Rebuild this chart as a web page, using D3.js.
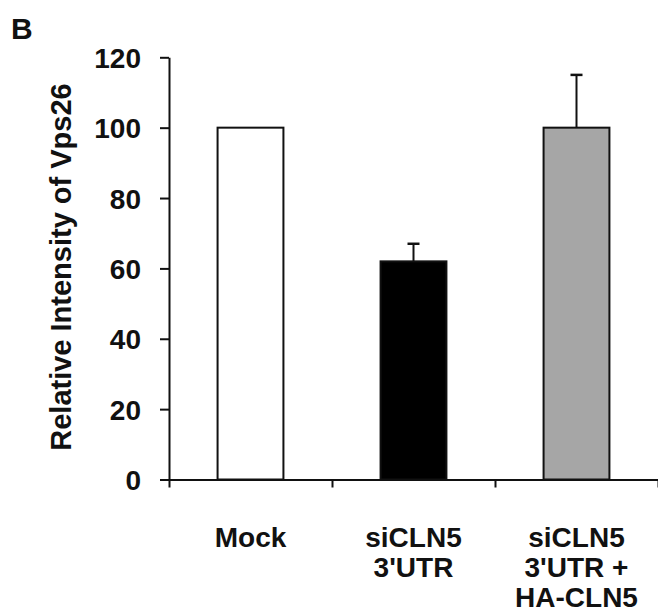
<!DOCTYPE html>
<html>
<head>
<meta charset="utf-8">
<script src="https://cdn.jsdelivr.net/npm/d3@7"></script>
<style>
  body { margin: 0; background: #fff; }
  svg text { font-family: "Liberation Sans", Arial, sans-serif; font-weight: bold; fill: #111; }
</style>
</head>
<body>
<div id="chart"></div>
<script>
// data
var categories = ["Mock", "siCLN5 3'UTR", "siCLN5 3'UTR + HA-CLN5"]
var labelLines = [["Mock"], ["siCLN5", "3'UTR"], ["siCLN5", "3'UTR +", "HA-CLN5"]]
var values = [100, 62, 100]
var errors = [0, 5, 15]
var fills = ["#ffffff", "#000000", "#a6a6a6"]
var yTicks = [0, 20, 40, 60, 80, 100, 120]

var width = 658, height = 614

var svg = d3.select("#chart")
    .append("svg")
    .attr("width", width)
    .attr("height", height)

// plot edges (note: "top" is a reserved window name)
var plotLeft = 169, plotRight = 658, plotTop = 57.3, plotBottom = 479.5

var y = d3.scaleLinear()
    .domain([0, 120])
    .range([plotBottom, plotTop])

var x = d3.scaleBand()
    .domain(categories)
    .range([plotLeft, plotRight])
    .paddingInner(0.596)
    .paddingOuter(0.298)

// boundary ticks on x axis
var xEdges = d3.scaleLinear()
    .domain([0, categories.length])
    .range([plotLeft, plotRight])

// panel letter
svg.append("text")
    .attr("x", 11)
    .attr("y", 39)
    .style("font-size", "30px")
    .text("B")

// bars
svg.selectAll(".bar")
    .data(values)
    .join("rect")
    .attr("class", "bar")
    .attr("x", (d, i) => x(categories[i]))
    .attr("y", d => y(d))
    .attr("width", x.bandwidth())
    .attr("height", d => y(0) - y(d))
    .attr("fill", (d, i) => fills[i])
    .attr("stroke", "#111")
    .attr("stroke-width", 2)

// error bars (upper only)
var errG = svg.append("g")
values.forEach(function (v, i) {
    if (!errors[i]) return
    var cx = x(categories[i]) + x.bandwidth() / 2
    errG.append("line")
        .attr("x1", cx).attr("x2", cx)
        .attr("y1", y(v)).attr("y2", y(v + errors[i]))
        .attr("stroke", "#111").attr("stroke-width", 2)
    errG.append("line")
        .attr("x1", cx - 6).attr("x2", cx + 6)
        .attr("y1", y(v + errors[i])).attr("y2", y(v + errors[i]))
        .attr("stroke", "#111").attr("stroke-width", 2.5)
})

// y axis
var yAxis = svg.append("g")
    .attr("transform", `translate(${plotLeft},0)`)
    .call(d3.axisLeft(y).tickValues(yTicks).tickSize(9).tickSizeOuter(0).tickPadding(19))
yAxis.select(".domain").attr("stroke", "#111").attr("stroke-width", 2)
yAxis.selectAll(".tick line").attr("stroke", "#111").attr("stroke-width", 2)
yAxis.selectAll("text")
    .style("font-size", "28px")
    .attr("dy", "0.36em")

// x axis
var xAxis = svg.append("g")
    .attr("transform", `translate(0,${plotBottom})`)
    .call(d3.axisBottom(xEdges).tickValues(d3.range(categories.length + 1)).tickSize(8).tickSizeOuter(0).tickFormat(""))
xAxis.select(".domain").attr("stroke", "#111").attr("stroke-width", 2)
xAxis.selectAll(".tick line").attr("stroke", "#111").attr("stroke-width", 2)

// category labels
categories.forEach(function (c, i) {
    var t = svg.append("text")
        .attr("x", x(c) + x.bandwidth() / 2)
        .attr("y", 547)
        .attr("text-anchor", "middle")
        .style("font-size", "28px")
    labelLines[i].forEach(function (line, j) {
        t.append("tspan")
            .attr("x", x(c) + x.bandwidth() / 2)
            .attr("y", 547 + j * 30)
            .text(line)
    })
})

// y axis title
svg.append("text")
    .attr("transform", "translate(71,267) rotate(-90)")
    .attr("text-anchor", "middle")
    .style("font-size", "29px")
    .text("Relative Intensity of Vps26")
</script>
</body>
</html>
